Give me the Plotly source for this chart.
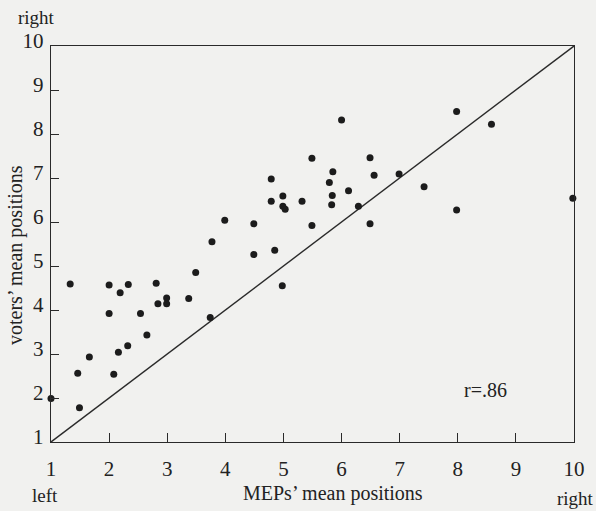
import plotly.graph_objects as go

# MEPs' mean positions (x) and voters' mean positions (y)
meps_x = [1.33, 2.00, 2.33, 2.19, 2.00, 2.54, 2.81, 2.84, 2.99, 2.99, 3.37, 3.49,
          3.77, 3.74, 4.49, 2.65, 2.32, 2.16, 1.66, 1.46, 2.08, 1.49, 1.00,
          6.00, 5.49, 6.49, 4.79, 5.85, 5.79, 6.56, 6.99, 7.42, 4.79, 4.99, 4.99,
          5.03, 5.32, 5.84, 5.83, 6.12, 6.29, 3.99, 4.49, 5.49, 6.49, 4.85, 4.98,
          7.98, 8.58, 7.98, 9.98]
voters_y = [4.59, 4.57, 4.58, 4.39, 3.92, 3.92, 4.61, 4.14, 4.27, 4.14, 4.26, 4.85,
            5.55, 3.83, 5.26, 3.43, 3.19, 3.04, 2.93, 2.56, 2.54, 1.78, 1.99,
            8.32, 7.45, 7.46, 6.98, 7.14, 6.90, 7.06, 7.09, 6.80, 6.47, 6.59, 6.36,
            6.29, 6.47, 6.60, 6.39, 6.71, 6.36, 6.04, 5.96, 5.92, 5.96, 5.36, 4.55,
            8.51, 8.22, 6.27, 6.54]

diag = [1, 10]
tick_vals = [1, 2, 3, 4, 5, 6, 7, 8, 9, 10]
tick_text = ["1", "2", "3", "4", "5", "6", "7", "8", "9", "10"]
corr_text = "r=.86"

FONT = "Liberation Serif"
INK = "#2a2a2a"
BG = "#f1f1ef"

fig = go.Figure()
fig.add_trace(go.Scatter(x=diag, y=diag, mode="lines",
                         line=dict(color=INK, width=1.4),
                         hoverinfo="skip", showlegend=False, cliponaxis=False))
fig.add_trace(go.Scatter(x=meps_x, y=voters_y, mode="markers",
                         marker=dict(size=7, color="#1c1c1c"),
                         showlegend=False, cliponaxis=False))

axis_common = dict(range=[1, 10], tickvals=tick_vals, ticktext=tick_text,
                   showgrid=False, zeroline=False, showline=True, mirror=True,
                   linecolor=INK, linewidth=1.4, ticks="inside", tickcolor=INK,
                   tickwidth=1, tickfont=dict(family=FONT, size=21, color="#222"))

fig.update_xaxes(**axis_common, ticklen=9, ticklabelstandoff=8)
fig.update_yaxes(**axis_common, ticklen=8, ticklabelstandoff=2, ticklabelshift=-5)

ann_font = dict(family=FONT, size=20, color="#222")
small_font = dict(family=FONT, size=19, color="#222")
annotations = [
    dict(text="right", x=-0.027, y=1.073, xref="paper", yref="paper",
         xanchor="center", yanchor="middle", showarrow=False, font=small_font),
    dict(text="voters’ mean positions", x=-0.069, y=0.472, xref="paper", yref="paper",
         xanchor="center", yanchor="middle", textangle=-90, showarrow=False, font=ann_font),
    dict(text="left", x=-0.0115, y=-0.134, xref="paper", yref="paper",
         xanchor="center", yanchor="middle", showarrow=False, font=small_font),
    dict(text="MEPs’ mean positions", x=0.539, y=-0.130, xref="paper", yref="paper",
         xanchor="center", yanchor="middle", showarrow=False, font=ann_font),
    dict(text="right", x=1.002, y=-0.142, xref="paper", yref="paper",
         xanchor="center", yanchor="middle", showarrow=False, font=small_font),
    dict(text=corr_text, x=8.47, y=2.18, xref="x", yref="y",
         xanchor="center", yanchor="middle", showarrow=False, font=ann_font),
]

fig.update_layout(width=596, height=511,
                  margin=dict(l=51, r=22, t=46, b=69),
                  paper_bgcolor=BG, plot_bgcolor=BG,
                  annotations=annotations, hovermode=False)

fig.write_html("out.html",
               config={"displayModeBar": False},
               post_script="document.body.style.margin='0';"
                           "document.body.style.background='" + BG + "';"
                           "document.body.style.overflow='hidden';")
